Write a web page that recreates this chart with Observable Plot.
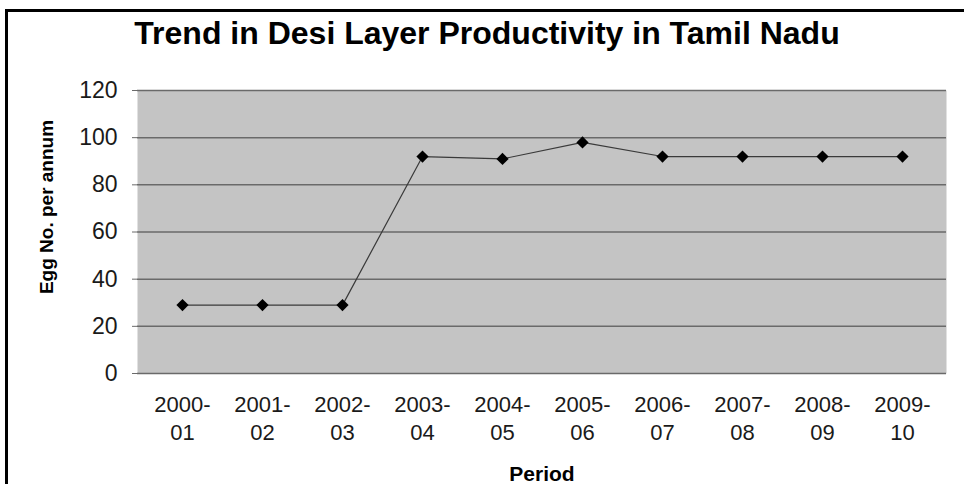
<!DOCTYPE html>
<html>
<head>
<meta charset="utf-8">
<script src="https://cdn.jsdelivr.net/npm/d3@7"></script>
<script src="https://cdn.jsdelivr.net/npm/@observablehq/plot@0.6"></script>
<style>
  html, body { margin: 0; padding: 0; background: #fff; }
  #wrap { position: relative; width: 964px; height: 484px; overflow: hidden; background: #fff; }
  #frameline { position: absolute; left: 5px; top: 9px; width: 980px; height: 500px;
    border-left: 3px solid #000; border-top: 3px solid #000; pointer-events: none; box-sizing: border-box; }
  svg { display: block; }
</style>
</head>
<body>
<div id="wrap"><div id="frameline"></div></div>
<script>
const titleText = "Trend in Desi Layer Productivity in Tamil Nadu";
const yLabel = "Egg No. per annum";
const xLabel = "Period";
const periods = ["2000-01","2001-02","2002-03","2003-04","2004-05","2005-06","2006-07","2007-08","2008-09","2009-10"];
const eggs = [29, 29, 29, 92, 91, 98, 92, 92, 92, 92];
const yTicks = [0, 20, 40, 60, 80, 100, 120];

const data = periods.map((p, i) => ({period: p, eggs: eggs[i]}));
const font = "'Liberation Sans', Arial, sans-serif";

const chart = Plot.plot({
  width: 964,
  height: 484,
  marginTop: 90,
  marginBottom: 111,
  marginLeft: 137,
  marginRight: 18,
  style: {fontFamily: font, background: "transparent", color: "#111"},
  x: {type: "point", domain: periods, padding: 0.5},
  y: {domain: [0, 120]},
  marks: [
    Plot.frame({fill: "#c4c4c4", stroke: null}),
    Plot.gridY(yTicks, {stroke: "#6a6a6a", strokeOpacity: 1, strokeWidth: 1.5}),
    Plot.axisY(yTicks, {tickSize: 5, tickPadding: 15, fontSize: 23, label: null, stroke: "#6a6a6a", fill: "#1a1a1a"}),
    Plot.axisX({tickSize: 0, tickPadding: 19, fontSize: 22, lineHeight: 1.27, label: null, fill: "#1a1a1a",
      tickFormat: d => d.replace("-", "-\n")}),
    Plot.line(data, {x: "period", y: "eggs", stroke: "#3a3a3a", strokeWidth: 1.2}),
    Plot.dot(data, {x: "period", y: "eggs", symbol: "diamond2", r: 5.5, fill: "#000", stroke: null}),
    Plot.text([titleText], {text: d => d, frameAnchor: "top", lineAnchor: "middle", dx: -55, dy: -57, fontSize: 32, fontWeight: "bold", fill: "#000"}),
    Plot.text([yLabel], {text: d => d, frameAnchor: "left", textAnchor: "middle", lineAnchor: "middle", dx: -91, dy: -25, rotate: -90, fontSize: 19, fontWeight: "bold", fill: "#000"}),
    Plot.text([xLabel], {text: d => d, frameAnchor: "bottom", lineAnchor: "middle", dy: 101, fontSize: 21, fontWeight: "bold", fill: "#000"})
  ]
});
document.getElementById("wrap").prepend(chart);
</script>
</body>
</html>
